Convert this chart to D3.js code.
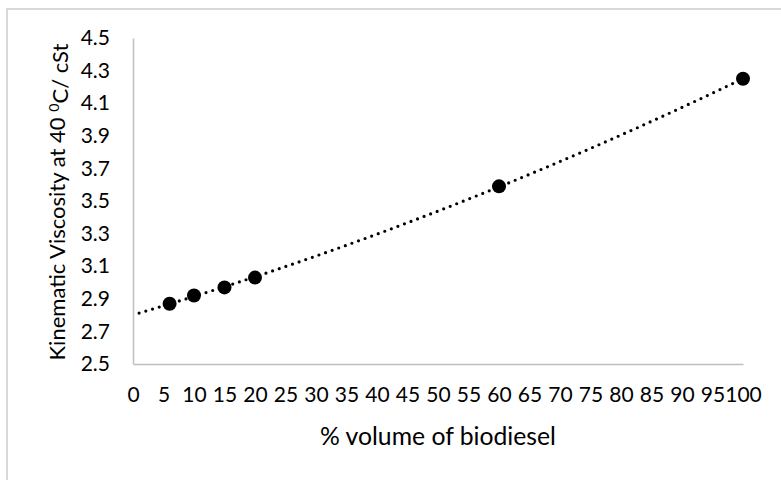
<!DOCTYPE html>
<html>
<head>
<meta charset="utf-8">
<script src="https://cdn.jsdelivr.net/npm/d3@7"></script>
<style>
  html, body { margin: 0; padding: 0; background: #fff; }
  svg { display: block; }
  text { font-family: Lato, "Open Sans", "Noto Sans", sans-serif; fill: #000; }
</style>
</head>
<body>
<svg id="chart" width="781" height="480"></svg>
<script>
// Blend level (% biodiesel by volume) and measured kinematic viscosity at 40 °C (cSt)
const blendPercent = [6, 10, 15, 20, 60, 100];
const viscosity = [2.87, 2.92, 2.97, 3.03, 3.59, 4.25];
const xTicks = d3.range(0, 101, 5);
const yTicks = [2.5, 2.7, 2.9, 3.1, 3.3, 3.5, 3.7, 3.9, 4.1, 4.3, 4.5];
const xTitle = "% volume of biodiesel";
const yTitleParts = ["Kinematic Viscosity at 40 ", "0", "C/ cSt"];

const svg = d3.select("#chart");
const plot = { left: 133, right: 743, top: 38, bottom: 364 };

const x = d3.scaleLinear().domain([0, 100]).range([plot.left, plot.right]);
const y = d3.scaleLinear().domain([2.5, 4.5]).range([plot.bottom, plot.top]);

// chart-area frame
svg.append("rect")
  .attr("x", 7).attr("y", 9).attr("width", 820).attr("height", 520)
  .attr("fill", "none").attr("stroke", "#d9d9d9").attr("stroke-width", 2);

// axes
const xAxis = svg.append("g")
  .attr("transform", `translate(0,${plot.bottom})`)
  .call(d3.axisBottom(x).tickValues(xTicks).tickSize(0).tickPadding(24).tickFormat(d3.format("d")));
const yAxis = svg.append("g")
  .attr("transform", `translate(${plot.left},0)`)
  .call(d3.axisLeft(y).tickValues(yTicks).tickSize(0).tickPadding(23).tickFormat(d3.format(".1f")));

[xAxis, yAxis].forEach(g => {
  g.select(".domain").attr("stroke", "#bfbfbf").attr("stroke-width", 1.5);
  g.selectAll("text").attr("font-size", 21).attr("fill", "#000")
    .style("font-family", "Lato, 'Open Sans', sans-serif");
});
xAxis.selectAll("text").attr("dy", "0.68em");

// second-order polynomial trendline (least squares), forecast back 5 units
function polyFit2(xs, ys) {
  const n = xs.length;
  let s = [0, 0, 0, 0, 0], t = [0, 0, 0];
  for (let i = 0; i < n; i++) {
    const xi = xs[i], yi = ys[i];
    for (let k = 0; k < 5; k++) s[k] += Math.pow(xi, k);
    for (let k = 0; k < 3; k++) t[k] += yi * Math.pow(xi, k);
  }
  const A = [[s[0], s[1], s[2], t[0]], [s[1], s[2], s[3], t[1]], [s[2], s[3], s[4], t[2]]];
  for (let c = 0; c < 3; c++) {
    for (let r = c + 1; r < 3; r++) {
      const f = A[r][c] / A[c][c];
      for (let k = c; k < 4; k++) A[r][k] -= f * A[c][k];
    }
  }
  const b = [0, 0, 0];
  for (let r = 2; r >= 0; r--) {
    let v = A[r][3];
    for (let k = r + 1; k < 3; k++) v -= A[r][k] * b[k];
    b[r] = v / A[r][r];
  }
  return xv => b[0] + b[1] * xv + b[2] * xv * xv;
}
const fit = polyFit2(blendPercent, viscosity);
const xStart = d3.min(blendPercent) - 5, xEnd = d3.max(blendPercent);
const trend = d3.range(xStart, xEnd + 0.001, 0.5).map(v => [v, fit(v)]);

svg.append("path")
  .datum(trend)
  .attr("d", d3.line().x(d => x(d[0])).y(d => y(d[1])))
  .attr("fill", "none").attr("stroke", "#000")
  .attr("stroke-width", 3.2).attr("stroke-linecap", "round")
  .attr("stroke-dasharray", "0,7");

// data markers
svg.append("g").selectAll("circle")
  .data(blendPercent.map((v, i) => [v, viscosity[i]]))
  .join("circle")
  .attr("cx", d => x(d[0])).attr("cy", d => y(d[1]))
  .attr("r", 7).attr("fill", "#000");

// size a title so it spans the given length
function fitFont(sel, base, length) {
  const w = sel.node().getComputedTextLength();
  sel.attr("font-size", base * length / w);
}

// axis titles
const xt = svg.append("text")
  .attr("x", (plot.left + plot.right) / 2).attr("y", 445)
  .attr("text-anchor", "middle").attr("font-size", 20)
  .text(xTitle);
fitFont(xt, 20, 236);

const yt = svg.append("text")
  .attr("transform", `translate(65,${(plot.top + plot.bottom) / 2 + 1}) rotate(-90)`)
  .attr("text-anchor", "middle").attr("font-size", 20);
yt.append("tspan").text(yTitleParts[0]);
yt.append("tspan").attr("font-size", "0.65em").attr("dy", "-0.4em").text(yTitleParts[1]);
yt.append("tspan").attr("dy", "0.4em").text(yTitleParts[2]);
fitFont(yt, 20, 317);
</script>
</body>
</html>
